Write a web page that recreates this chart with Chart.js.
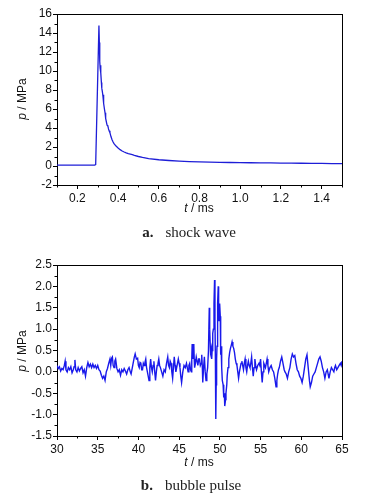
<!DOCTYPE html>
<html>
<head>
<meta charset="utf-8">
<script src="https://cdn.jsdelivr.net/npm/chart.js@4.4.1/dist/chart.umd.min.js"></script>
<style>
  html, body { margin: 0; padding: 0; background: #fff; }
  body { width: 369px; height: 498px; position: relative; overflow: hidden; }
  canvas { position: absolute; left: 0; }
  .ytitle, .xtitle { position: absolute; font-family: "Liberation Sans", Arial, sans-serif; font-size: 12px; color: #111; white-space: nowrap; }
  .ytitle { transform: translate(-50%, -50%) rotate(-90deg); }
  .xtitle { transform: translate(-50%, -50%); }
  .cap { position: absolute; transform: translate(-50%, -50%); font-family: "Liberation Serif", "DejaVu Serif", serif; font-size: 15px; color: #222; white-space: nowrap; }
  .cap b { margin-right: 12px; }
</style>
</head>
<body>
<canvas id="cA" width="369" height="215" style="top:0px"></canvas>
<canvas id="cB" width="369" height="216" style="top:250px"></canvas>
<div class="ytitle" style="left:22px; top:99px;"><i>p</i> / MPa</div>
<div class="xtitle" style="left:199px; top:208px;"><i>t</i> / ms</div>
<div class="cap" style="left:189px; top:232px;"><b>a.</b>shock wave</div>
<div class="ytitle" style="left:22px; top:351px;"><i>p</i> / MPa</div>
<div class="xtitle" style="left:199px; top:462px;"><i>t</i> / ms</div>
<div class="cap" style="left:191px; top:485px;"><b>b.</b>bubble pulse</div>
<script>
// ---- Data: (a) shock wave, t in ms, p in MPa ----
const shockT = [0.10,0.20,0.285,0.290,0.306,0.308,0.310,0.312,0.314,0.316,0.318,0.320,0.323,0.326,0.328,0.330,0.333,0.336,0.338,0.340,0.343,0.346,0.350,0.353,0.356,0.360,0.365,0.370,0.375,0.380,0.390,0.400,0.410,0.420,0.430,0.440,0.450,0.460,0.470,0.480,0.500,0.520,0.550,0.600,0.650,0.700,0.750,0.800,0.850,0.900,0.950,1.000,1.050,1.100,1.150,1.200,1.250,1.300,1.350,1.400,1.450,1.500];
const shockP = [0.10,0.10,0.10,0.15,14.8,13.0,11.0,10.3,10.6,9.8,8.8,8.2,7.8,7.3,7.5,6.6,6.0,5.6,5.4,5.0,4.6,4.3,4.2,3.9,3.7,3.5,3.1,2.8,2.55,2.35,2.1,1.9,1.72,1.58,1.47,1.38,1.30,1.25,1.20,1.12,1.0,0.9,0.78,0.66,0.58,0.52,0.47,0.43,0.41,0.39,0.37,0.35,0.34,0.33,0.32,0.31,0.30,0.29,0.28,0.27,0.26,0.25];

// ---- Data: (b) bubble pulse, [t in ms, p in MPa] ----
const bubbleSamples = [
[30.0,0.15],[30.15,0.08],[30.3,0.12],[30.45,0.02],[30.6,0.08],[30.75,0.05],[30.9,0.15],[31.0,0.25],[31.1,0.05],[31.25,0.0],[31.4,0.1],[31.55,0.05],[31.7,0.12],[31.85,-0.02],
[32.0,0.05],[32.1,0.12],[32.2,0.28],[32.3,0.05],[32.45,0.0],[32.6,0.1],[32.75,0.02],[32.9,0.08],[33.05,0.12],[33.2,-0.02],[33.35,0.05],[33.5,-0.1],[33.65,0.1],[33.8,0.22],[33.95,0.12],
[34.1,0.18],[34.25,0.1],[34.4,0.18],[34.55,0.1],[34.7,0.15],[34.85,0.08],[35.0,0.15],[35.15,0.05],[35.3,0.02],[35.45,-0.08],[35.6,-0.15],[35.75,-0.1],[35.9,-0.2],[36.05,0.0],
[36.2,0.08],[36.35,0.2],[36.5,0.3],[36.6,0.15],[36.7,0.32],[36.8,0.35],[36.9,0.15],[37.0,0.1],[37.1,0.25],[37.2,0.3],[37.35,0.08],[37.5,0.0],[37.65,0.05],[37.8,-0.08],[37.95,0.05],
[38.1,0.0],[38.25,0.08],[38.4,0.02],[38.55,-0.05],[38.7,0.05],[38.85,0.1],[39.0,0.0],[39.1,-0.05],[39.25,0.1],[39.4,0.25],[39.5,0.35],[39.6,0.42],[39.75,0.3],[39.9,0.32],
[40.0,0.15],[40.1,0.1],[40.2,0.22],[40.3,0.2],[40.4,0.05],[40.5,0.05],[40.6,0.2],[40.7,0.15],[40.8,0.22],[40.9,0.3],[41.0,0.1],[41.1,0.0],[41.2,-0.1],[41.3,-0.2],[41.4,0.1],
[41.5,0.3],[41.6,0.1],[41.7,0.0],[41.8,0.15],[41.9,0.25],[42.0,0.0],[42.1,-0.2],[42.2,0.0],[42.3,0.15],[42.4,0.2],[42.5,0.3],[42.6,0.15],[42.7,0.1],[42.85,0.0],[43.0,-0.1],
[43.15,0.05],[43.3,0.0],[43.45,0.2],[43.6,0.35],[43.7,0.15],[43.8,0.1],[43.9,0.25],[44.0,0.2],[44.1,0.0],[44.2,-0.15],[44.3,0.1],[44.4,0.35],[44.5,0.15],[44.6,0.0],[44.75,0.15],
[44.9,0.3],[45.0,0.2],[45.1,0.1],[45.2,-0.1],[45.3,-0.25],[45.45,0.0],[45.6,0.15],[45.75,0.1],[45.9,0.2],[46.0,0.1],[46.1,0.0],[46.2,0.15],[46.3,0.2],[46.4,0.05],[46.5,0.0],
[46.55,0.3],[46.6,0.65],[46.65,0.4],[46.7,0.3],[46.75,0.45],[46.8,0.65],[46.85,0.3],[46.9,0.1],[47.0,0.2],[47.1,0.35],[47.2,0.25],[47.3,0.15],[47.4,0.3],[47.5,0.3],[47.6,0.15],
[47.7,0.2],[47.75,0.3],[47.8,0.4],[47.85,0.1],[47.9,-0.25],[48.0,0.1],[48.1,0.35],[48.2,0.0],[48.3,-0.2],[48.4,-0.05],[48.5,0.1],[48.6,0.5],[48.7,1.5],[48.75,1.0],[48.85,0.45],
[48.95,0.55],[49.0,0.3],[49.05,0.5],[49.1,0.7],[49.15,0.9],[49.2,1.0],[49.28,1.6],[49.35,2.15],[49.4,1.2],[49.45,0.3],[49.5,-1.1],[49.55,-0.3],[49.6,0.3],[49.65,0.6],[49.7,1.0],
[49.75,1.6],[49.8,2.0],[49.85,1.5],[49.9,1.2],[49.95,1.45],[50.0,1.6],[50.05,1.3],[50.1,0.4],[50.15,0.6],[50.2,0.25],[50.25,0.1],[50.3,-0.2],[50.4,-0.3],[50.45,-0.45],[50.5,-0.6],
[50.55,-0.5],[50.6,-0.8],[50.7,-0.65],[50.75,-0.5],[50.85,-0.3],[50.9,-0.1],[51.0,0.1],[51.1,0.3],[51.2,0.45],[51.3,0.55],[51.4,0.62],[51.5,0.7],[51.6,0.6],[51.7,0.55],[51.8,0.45],
[51.9,0.3],[52.0,0.2],[52.1,0.15],[52.2,0.0],[52.3,-0.15],[52.4,0.0],[52.5,0.1],[52.6,0.2],[52.7,0.25],[52.8,0.15],[52.9,0.05],[53.0,0.2],[53.1,0.3],[53.2,0.1],[53.3,0.0],
[53.4,0.15],[53.5,0.25],[53.6,0.15],[53.7,0.1],[53.8,0.2],[53.9,0.35],[54.0,0.1],[54.1,-0.1],[54.2,0.1],[54.3,0.3],[54.4,0.15],[54.5,0.05],[54.65,0.15],[54.8,0.2],[54.9,0.15],
[55.0,0.3],[55.1,0.0],[55.2,-0.25],[55.3,0.0],[55.4,0.2],[55.5,0.15],[55.6,0.1],[55.7,0.2],[55.8,0.3],[55.9,0.15],[56.0,0.0],[56.15,0.1],[56.3,0.15],[56.45,0.05],[56.6,0.0],
[56.75,-0.15],[56.9,-0.35],[57.0,-0.2],[57.1,-0.05],[57.2,0.05],[57.3,0.1],[57.45,0.25],[57.6,0.35],[57.7,0.25],[57.8,0.15],[57.9,0.05],[58.0,0.0],[58.15,-0.05],[58.3,-0.15],
[58.45,0.0],[58.6,0.1],[58.75,0.3],[58.9,0.42],[59.05,0.35],[59.2,0.38],[59.35,0.2],[59.5,0.05],[59.65,0.0],[59.8,-0.1],[59.95,-0.15],[60.1,-0.25],[60.25,-0.1],[60.4,0.1],
[60.55,0.3],[60.7,0.4],[60.8,0.2],[60.9,0.0],[61.0,-0.2],[61.1,-0.35],[61.25,-0.25],[61.4,-0.1],[61.55,-0.05],[61.7,0.0],[61.85,0.1],[62.0,0.2],[62.15,0.3],[62.3,0.35],
[62.45,0.25],[62.6,0.1],[62.75,0.0],[62.9,-0.15],[63.05,0.0],[63.2,0.05],[63.3,-0.05],[63.4,-0.15],[63.55,0.0],[63.7,0.1],[63.85,0.05],[64.0,0.0],[64.1,0.1],[64.2,0.15],
[64.35,0.05],[64.5,0.1],[64.65,0.15],[64.8,0.2],[64.9,0.15],[65.0,0.25]
];
const bubbleT = bubbleSamples.map(d => d[0]);
const bubbleP = bubbleSamples.map(d => d[1]);

// ---- Axis ticks ----
const aXMajor = [0.2,0.4,0.6,0.8,1.0,1.2,1.4];
const aXMinor = [0.1,0.3,0.5,0.7,0.9,1.1,1.3,1.5];
const aYMajor = [-2,0,2,4,6,8,10,12,14,16];
const aYMinor = [-1,1,3,5,7,9,11,13,15];
const bXMajor = [30,35,40,45,50,55,60,65];
const bXMinor = [32.5,37.5,42.5,47.5,52.5,57.5,62.5];
const bYMajor = [-1.5,-1.0,-0.5,0.0,0.5,1.0,1.5,2.0,2.5];
const bYMinor = [-1.25,-0.75,-0.25,0.25,0.75,1.25,1.75,2.25];

const frameAndMinor = {
  id: 'frameAndMinor',
  afterDraw(chart, args, opts) {
    const ctx = chart.ctx, a = chart.chartArea;
    ctx.save();
    ctx.strokeStyle = '#000';
    ctx.lineWidth = 1;
    ctx.beginPath();
    ctx.moveTo(a.left, a.top + 0.5); ctx.lineTo(a.right + 0.5, a.top + 0.5);
    ctx.moveTo(a.right + 0.5, a.top); ctx.lineTo(a.right + 0.5, a.bottom);
    const xs = chart.scales.x, ys = chart.scales.y;
    opts.xMinor.forEach(v => { const px = Math.round(xs.getPixelForValue(v)) + 0.5; ctx.moveTo(px, a.bottom); ctx.lineTo(px, a.bottom + 2.5); });
    opts.yMinor.forEach(v => { const py = Math.round(ys.getPixelForValue(v)) + 0.5; ctx.moveTo(a.left, py); ctx.lineTo(a.left - 2.5, py); });
    ctx.stroke();
    ctx.restore();
  }
};

function makeChart(id, T, P, xMin, xMax, yMin, yMax, xMajor, xMinor, yMajor, yMinor, xFmt, yFmt, padTop, color, lw) {
  const pts = T.map((t, i) => ({x: t, y: P[i]}));
  return new Chart(document.getElementById(id), {
    type: 'line',
    data: { datasets: [{ data: pts, borderColor: color, borderWidth: lw, pointRadius: 0, tension: 0, fill: false }] },
    options: {
      responsive: false, animation: false, devicePixelRatio: 1,
      layout: { padding: { top: padTop, right: 27, left: 0, bottom: 0 } },
      plugins: { legend: { display: false }, tooltip: { enabled: false }, frameAndMinor: { xMinor, yMinor } },
      scales: {
        x: {
          type: 'linear', min: xMin, max: xMax,
          afterBuildTicks: s => { s.ticks = xMajor.map(v => ({ value: v })); },
          afterFit: s => { s.height = 30; },
          grid: { drawOnChartArea: false, drawTicks: true, tickLength: 4, color: '#000' },
          border: { display: true, color: '#000', width: 1 },
          ticks: { padding: 2, color: '#111', maxRotation: 0, autoSkip: false, font: { family: 'Liberation Sans', size: 12 }, callback: xFmt }
        },
        y: {
          type: 'linear', min: yMin, max: yMax,
          afterBuildTicks: s => { s.ticks = yMajor.map(v => ({ value: v })); },
          afterFit: s => { s.width = 57; },
          grid: { drawOnChartArea: false, drawTicks: true, tickLength: 4, color: '#000' },
          border: { display: true, color: '#000', width: 1 },
          ticks: { padding: 1, color: '#111', autoSkip: false, font: { family: 'Liberation Sans', size: 12 }, callback: yFmt }
        }
      }
    },
    plugins: [frameAndMinor]
  });
}

makeChart('cA', shockT, shockP, 0.1, 1.5, -2, 16, aXMajor, aXMinor, aYMajor, aYMinor,
  v => v.toFixed(1), v => String(v), 14, 'rgb(30,30,215)', 1.3);
makeChart('cB', bubbleT, bubbleP, 30, 65, -1.5, 2.5, bXMajor, bXMinor, bYMajor, bYMinor,
  v => String(v), v => v.toFixed(1), 15, 'rgb(25,25,235)', 1.4);
</script>
</body>
</html>
